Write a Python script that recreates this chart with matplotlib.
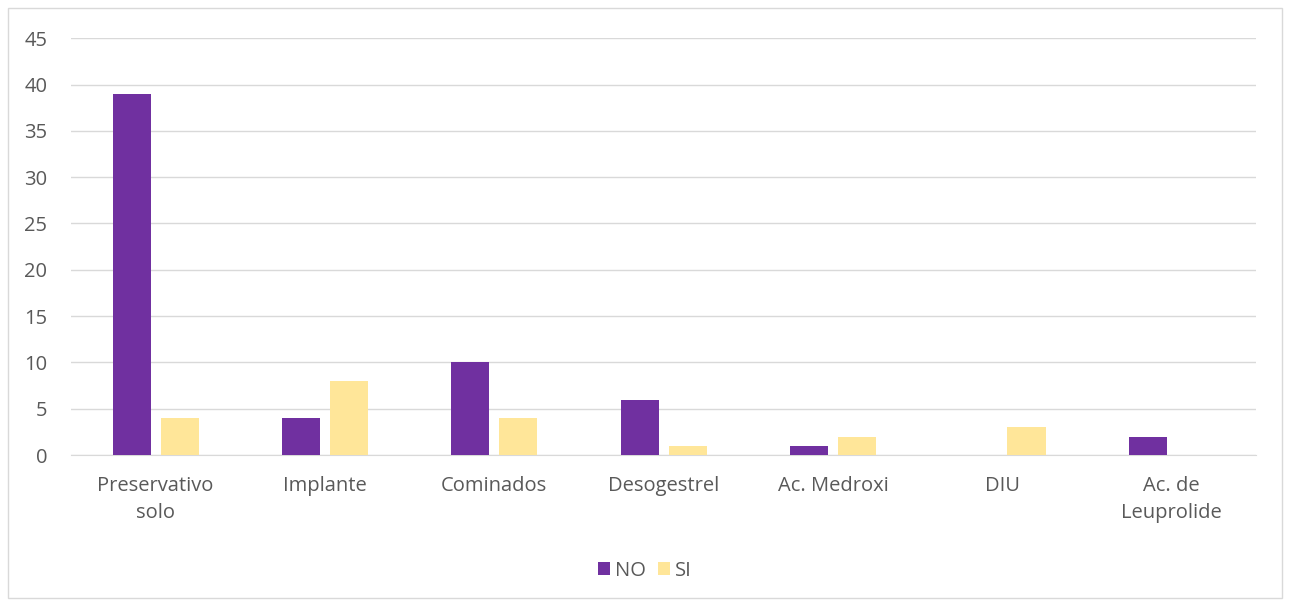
import matplotlib.pyplot as plt
import numpy as np
from matplotlib.patches import Rectangle

categories = ["Preservativo\nsolo", "Implante", "Cominados", "Desogestrel",
              "Ac. Medroxi", "DIU", "Ac. de\nLeuprolide"]
no_values = [39, 4, 10, 6, 1, 0, 2]
si_values = [4, 8, 4, 1, 2, 3, 0]
y_ticks = list(range(0, 50, 5))

plt.rcParams['font.family'] = ['Open Sans', 'DejaVu Sans']
text_color = "#595959"

fig = plt.figure(figsize=(12.9, 6.06), dpi=100)
ax = fig.add_axes([0.055, 0.249, 0.919, 0.688])

x = np.arange(len(categories))
width = 0.225
ax.bar(x - 0.142, no_values, width, color="#7030A0", label="NO", zorder=3)
ax.bar(x + 0.142, si_values, width, color="#FFE699", label="SI", zorder=3)

ax.set_xlim(-0.5, len(categories) - 0.5)
ax.set_ylim(0, 45)
ax.set_yticks(y_ticks)
ax.set_xticks(x)
ax.set_xticklabels(categories, linespacing=1.5)
ax.tick_params(axis='both', length=0, colors=text_color, labelsize=14.5)
ax.tick_params(axis='x', pad=15)
ax.tick_params(axis='y', pad=17)
ax.grid(axis='y', color="#D9D9D9", linewidth=1, zorder=0)
for side in ['top', 'right', 'left']:
    ax.spines[side].set_visible(False)
ax.spines['bottom'].set_color("#D9D9D9")

leg = fig.legend(loc='center', bbox_to_anchor=(0.5, 0.058), ncol=2, frameon=False,
                 fontsize=14.5, handlelength=0.6, handleheight=0.6, handletextpad=0.25,
                 columnspacing=0.6, labelcolor=text_color)

# light outline around the chart area
fig.patches.append(Rectangle((0.006, 0.013), 0.988, 0.974, transform=fig.transFigure,
                             fill=False, edgecolor="#D9D9D9", linewidth=1))

fig.savefig("out.png", dpi=100)
